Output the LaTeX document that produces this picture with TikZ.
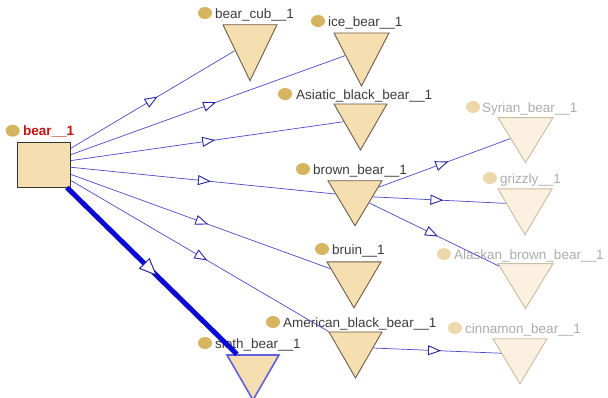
\documentclass[tikz,border=0pt]{standalone}
\usepackage{fontspec}
\setmainfont{Liberation Sans}
\usetikzlibrary{shapes.geometric,arrows.meta,decorations.markings}

\definecolor{tanfill}{HTML}{F5DEB0}
\definecolor{tanedge}{HTML}{6E5C48}
\definecolor{palefill}{HTML}{FCF1E0}
\definecolor{paleedge}{HTML}{CBBB9F}
\definecolor{dotcol}{HTML}{D6B460}
\definecolor{paledot}{HTML}{EDD8AC}
\definecolor{labelcol}{HTML}{3C3C3C}
\definecolor{palelabel}{HTML}{ABABAB}
\definecolor{linkcol}{HTML}{4A4AC8}
\definecolor{markcol}{HTML}{2626A0}
\definecolor{selblue}{HTML}{0A0AD2}
\definecolor{rootred}{HTML}{C41010}

\tikzset{
  tri/.style={isosceles triangle, isosceles triangle stretches,
    shape border rotate=270, inner sep=0pt, draw=tanedge, fill=tanfill,
    line width=0.9pt},
  paletri/.style={tri, draw=paleedge, fill=palefill},
  seltri/.style={tri, draw=selblue!65!white, line width=1.6pt},
  rootbox/.style={rectangle, draw=black!80, fill=tanfill, line width=1pt,
    minimum width=53pt, minimum height=45pt, inner sep=0pt},
  dot/.style={ellipse, minimum width=14pt, minimum height=12pt, inner sep=0pt,
    fill=dotcol},
  paledotst/.style={dot, fill=paledot},
  lbl/.style={anchor=base west, inner sep=0pt, text=labelcol,
    font=\fontsize{13.5}{16}\selectfont},
  palelbl/.style={lbl, text=palelabel},
  link/.style={draw=linkcol, line width=0.7pt, postaction={decorate},
    decoration={markings, mark=at position 0.53 with
      {\arrow{Triangle[length=13pt, width=10pt, fill=white, color=markcol, line width=0.9pt]}}}},
  sellink/.style={draw=selblue, line width=5pt, postaction={decorate},
    decoration={markings, mark=at position 0.53 with
      {\arrow{Triangle[length=18pt, width=15pt, fill=white, color=markcol, line width=1pt]}}}},
}

\begin{document}
\begin{tikzpicture}[x=1pt, y=-1pt]
  \useasboundingbox (0,0) rectangle (608,397);

  % root class
  \node[rootbox] (bear) at (43.5,164.5) {};
  \node[dot] (bear-dot) at (12.7,130.7) {};
  \node[lbl, text=rootred, font=\fontsize{13.5}{16}\selectfont\bfseries] (bear-lbl) at (23,135.5) {bear\_\_1};

  % direct subclasses (node centre = triangle centroid)
  \node[tri, minimum width=54pt, minimum height=56pt] (cub) at (250,41.7) {};
  \node[tri, minimum width=55pt, minimum height=53pt] (ice) at (361.5,49.7) {};
  \node[tri, minimum width=53pt, minimum height=46pt] (asiatic) at (360.5,119.3) {};
  \node[tri, minimum width=54pt, minimum height=45pt] (brown) at (355,196) {};
  \node[tri, minimum width=54pt, minimum height=46pt] (bruin) at (354,277.3) {};
  \node[tri, minimum width=53pt, minimum height=46pt] (american) at (355.5,347.3) {};
  \node[seltri, minimum width=52pt, minimum height=45pt] (sloth) at (253,370) {};

  % second level
  \node[paletri, minimum width=55pt, minimum height=45pt] (syrian) at (525.5,133) {};
  \node[paletri, minimum width=54pt, minimum height=46pt] (grizzly) at (525,204.3) {};
  \node[paletri, minimum width=55pt, minimum height=45pt] (alaskan) at (525.5,279) {};
  \node[paletri, minimum width=54pt, minimum height=45pt] (cinnamon) at (520,354) {};

  % labels
  \node[dot] (cub-dot) at (205,13) {};
  \node[lbl] (cub-lbl) at (215,18) {bear\_cub\_\_1};
  \node[dot] (ice-dot) at (318,21) {};
  \node[lbl] (ice-lbl) at (328,26) {ice\_bear\_\_1};
  \node[dot] (asiatic-dot) at (285,94) {};
  \node[lbl] (asiatic-lbl) at (296,99) {Asiatic\_black\_bear\_\_1};
  \node[dot] (brown-dot) at (303,169) {};
  \node[lbl] (brown-lbl) at (313,174) {brown\_bear\_\_1};
  \node[dot] (bruin-dot) at (322,249) {};
  \node[lbl] (bruin-lbl) at (332,254) {bruin\_\_1};
  \node[dot] (american-dot) at (273,322) {};
  \node[lbl] (american-lbl) at (283,327) {American\_black\_bear\_\_1};
  \node[dot] (sloth-dot) at (205,343) {};
  \node[lbl] (sloth-lbl) at (215,348) {sloth\_bear\_\_1};
  \node[paledotst] (syrian-dot) at (473,107) {};
  \node[palelbl] (syrian-lbl) at (482,112) {Syrian\_bear\_\_1};
  \node[paledotst] (grizzly-dot) at (490,178) {};
  \node[palelbl] (grizzly-lbl) at (500,183) {grizzly\_\_1};
  \node[paledotst] (alaskan-dot) at (444,254) {};
  \node[palelbl] (alaskan-lbl) at (454,259) {Alaskan\_brown\_bear\_\_1};
  \node[paledotst] (cinnamon-dot) at (455,328) {};
  \node[palelbl] (cinnamon-lbl) at (465,333) {cinnamon\_bear\_\_1};

  % subclass links
  \draw[link] (bear) -- (cub);
  \draw[link] (bear) -- (ice);
  \draw[link] (bear) -- (asiatic);
  \draw[link] (bear) -- (brown);
  \draw[link] (bear) -- (bruin);
  \draw[link] (bear) -- (american);
  \draw[sellink] (bear) -- (sloth);
  \draw[link] (brown) -- (syrian);
  \draw[link] (brown) -- (grizzly);
  \draw[link] (brown) -- (alaskan);
  \draw[link] (american) -- (cinnamon);
\end{tikzpicture}
\end{document}
